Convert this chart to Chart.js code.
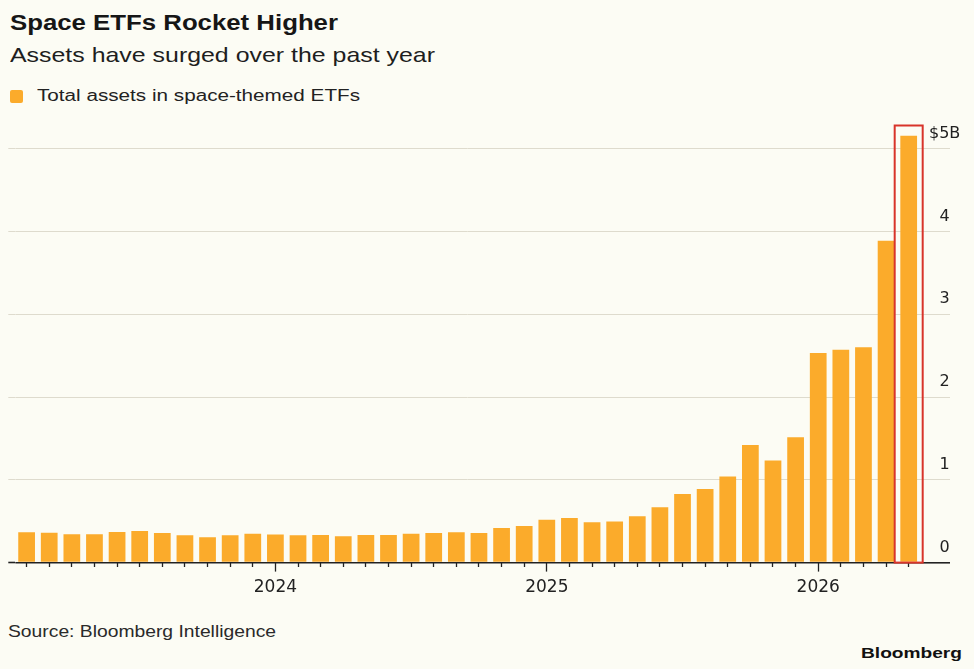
<!DOCTYPE html>
<html>
<head>
<meta charset="utf-8">
<script src="https://cdn.jsdelivr.net/npm/chart.js@4/dist/chart.umd.min.js"></script>
<style>
  html, body { margin:0; padding:0; background:#fcfcf4; }
  body { width:974px; height:669px; position:relative; overflow:hidden; font-family:"Liberation Sans", Arial, sans-serif; }
  .t { position:absolute; white-space:nowrap; display:inline-block; line-height:1; transform-origin:0 0; }
  #title { left:10px; top:12px; font-size:22px; font-weight:bold; color:#161616; }
  #subtitle { left:10px; top:44px; font-size:21px; color:#1e1e1e; }
  #legtext { left:37px; top:87px; font-size:17.3px; color:#222; }
  #legbox { position:absolute; left:10px; top:90px; width:13px; height:13px; border-radius:2px; background:#fbab2b; }
  #source { left:8px; top:623px; font-size:17px; color:#2a2a2a; }
  #logo { left:861px; top:645px; font-size:15.4px; font-weight:bold; color:#111; }
  #wrap { position:absolute; left:0; top:110px; width:974px; height:496px; }
</style>
</head>
<body>
<div class="t" id="title" data-w="328">Space ETFs Rocket Higher</div>
<div class="t" id="subtitle" data-w="425">Assets have surged over the past year</div>
<div id="legbox"></div>
<div class="t" id="legtext" data-w="323">Total assets in space-themed ETFs</div>
<div id="wrap"><canvas id="c"></canvas></div>
<div class="t" id="source" data-w="268">Source: Bloomberg Intelligence</div>
<div class="t" id="logo" data-w="101">Bloomberg</div>
<script>
// ---- data ----
const months = [
  '2023-02','2023-03','2023-04','2023-05','2023-06','2023-07','2023-08','2023-09','2023-10','2023-11','2023-12',
  '2024-01','2024-02','2024-03','2024-04','2024-05','2024-06','2024-07','2024-08','2024-09','2024-10','2024-11','2024-12',
  '2025-01','2025-02','2025-03','2025-04','2025-05','2025-06','2025-07','2025-08','2025-09','2025-10','2025-11','2025-12',
  '2026-01','2026-02','2026-03','2026-04','2026-05'
];
const totalAssets = [
  0.366,0.362,0.342,0.342,0.370,0.382,0.358,0.330,0.306,0.330,0.350,
  0.338,0.330,0.334,0.318,0.334,0.334,0.350,0.358,0.366,0.358,0.419,0.443,
  0.519,0.540,0.487,0.495,0.559,0.668,0.830,0.890,1.039,1.421,1.232,1.513,
  2.533,2.572,2.600,3.889,5.157
];
const yTickValues = [0,1,2,3,4,5];
const yTickLabels = ['0','1','2','3','4','$5B'];
const seriesName = 'Total assets in space-themed ETFs';

// ---- text width fitting ----
document.querySelectorAll('.t').forEach(el => {
  const w = el.getBoundingClientRect().width;
  const target = parseFloat(el.dataset.w);
  el.style.transform = 'scaleX(' + (target / w) + ')';
});

const BAR = '#fbab2b';
const GRID = '#dedbcd';
const DARK = '#222222';
const isJan = i => months[i] && months[i].endsWith('-01');
const gridColor = ctx => (ctx.tick && ctx.tick.value === 0) ? DARK : GRID;
const gridWidth = ctx => (ctx.tick && ctx.tick.value === 0) ? 1.6 : 1;

const highlightBox = {
  id: 'highlightBox',
  afterDatasetsDraw(chart) {
    const meta = chart.getDatasetMeta(0);
    const bar = meta.data[meta.data.length - 1];
    if (!bar) return;
    const y0 = chart.scales.y.getPixelForValue(0);
    const top = chart.chartArea.top;
    const c = chart.ctx;
    c.save();
    c.strokeStyle = '#d8342a';
    c.lineWidth = 2;
    c.strokeRect(bar.x - 14, top, 28, y0 - top);
    c.restore();
  }
};

new Chart(document.getElementById('c'), {
  type: 'bar',
  data: {
    labels: months,
    datasets: [{
      label: seriesName,
      data: totalAssets,
      backgroundColor: BAR,
      borderWidth: 0,
      barPercentage: 0.74,
      categoryPercentage: 1.0
    }]
  },
  plugins: [highlightBox],
  options: {
    responsive: true,
    maintainAspectRatio: false,
    animation: false,
    events: [],
    layout: { padding: { left: 8.3, right: 12, top: 15.5, bottom: 2 } },
    plugins: { legend: { display: false }, tooltip: { enabled: false } },
    scales: {
      x: {
        type: 'category',
        offset: true,
        border: { display: false },
        grid: {
          offset: false,
          drawOnChartArea: false,
          drawTicks: true,
          tickLength: 9,
          tickColor: DARK,
          tickWidth: 1.3,
          tickBorderDash: ctx => isJan(ctx.index) ? [] : [4, 30]
        },
        ticks: {
          autoSkip: false,
          maxRotation: 0,
          minRotation: 0,
          padding: 6,
          color: DARK,
          font: { family: 'DejaVu Sans', size: 17 },
          callback: (v, i) => isJan(i) ? months[i].slice(0, 4) : ''
        }
      },
      y: {
        position: 'right',
        min: 0,
        max: 5.28,
        border: { display: false },
        afterBuildTicks: s => { s.ticks = yTickValues.map(v => ({ value: v })); },
        afterFit: s => { s.width = 42; },
        grid: {
          color: gridColor,
          lineWidth: gridWidth,
          drawTicks: true,
          tickLength: 30,
          tickColor: gridColor,
          tickWidth: gridWidth
        },
        ticks: {
          stepSize: 1,
          includeBounds: false,
          labelOffset: -15,
          padding: -21,
          crossAlign: 'center',
          color: DARK,
          font: { family: 'DejaVu Sans', size: 16 },
          callback: v => yTickLabels[yTickValues.indexOf(v)]
        }
      },
      yl: {
        position: 'left',
        min: 0,
        max: 5.28,
        border: { display: false },
        afterBuildTicks: s => { s.ticks = yTickValues.map(v => ({ value: v })); },
        afterFit: s => { s.width = 7; },
        grid: {
          drawOnChartArea: false,
          drawTicks: true,
          tickLength: 7,
          tickColor: gridColor,
          tickWidth: gridWidth
        },
        ticks: { display: false, stepSize: 1, includeBounds: false }
      }
    }
  }
});
</script>
</body>
</html>
